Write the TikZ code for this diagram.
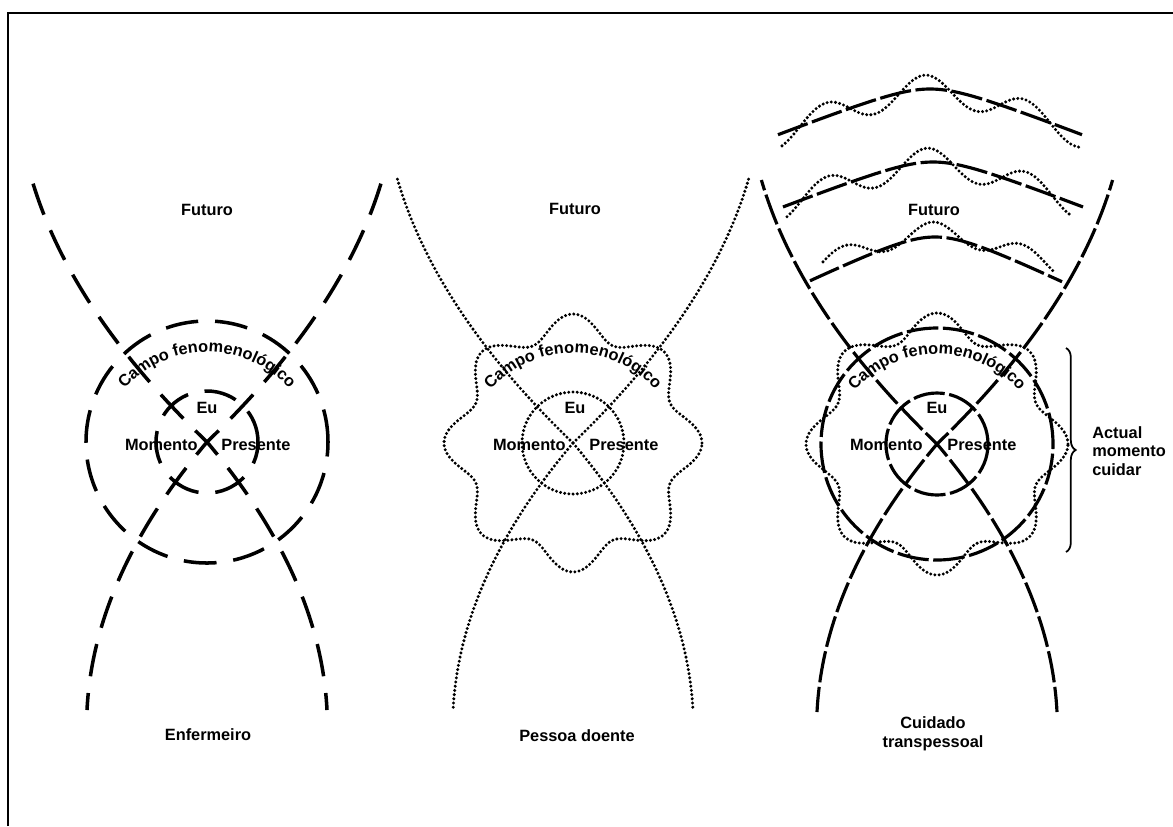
\documentclass[tikz,border=0pt]{standalone}
\usepackage{fontspec}
\setmainfont{Liberation Sans}
\usetikzlibrary{decorations.text,decorations.pathreplacing}
\newcommand{\lblfont}{\bfseries\fontsize{9.3}{10.6}\selectfont}
\newcommand{\xcurves}[2]{%
  \draw[#1,dash phase=#2] (0,0) .. controls (-91.5,88) and (-150.1,176) .. (-175.6,264);
  \draw[#1,dash phase=#2] (0,0) .. controls (91.5,88) and (150.1,176) .. (175.6,264);
  \draw[#1,dash phase=#2] (0,0) .. controls (75.5,-89.3) and (115.5,-178.7) .. (120,-268);
  \draw[#1,dash phase=#2] (0,0) .. controls (-75.5,-89.3) and (-115.5,-178.7) .. (-120,-268);
}
\newcommand{\campo}{%
  \path[decorate,decoration={text along path,text format delimiters={|}{|},
    text={|\lblfont|Campo fenomenológico},text align=center}]
    (0,-20) ++(150:110) arc[start angle=150,end angle=30,radius=110];
}
\newcommand{\flower}[2]{%
  \draw[dots] plot[domain=0:360,samples=289,variable=\t]
    ({(#1+#2*cos(8*\t))*cos(\t)},{(#1+#2*cos(8*\t))*sin(\t)}) -- cycle;
}
\begin{document}
\begin{tikzpicture}[x=0.02cm,y=0.02cm,
  lbl/.style={font=\lblfont,inner sep=0pt},
  longdash/.style={line width=2pt,dash pattern=on 18.7pt off 9.6pt},
  soliddash/.style={line width=1.8pt,dash pattern=on 18pt off 2.6pt},
  dots/.style={line width=1.9pt,line cap=round,dash pattern=on 0pt off 2.4pt},
  frame/.style={line width=1.1pt},
  bracestyle/.style={line width=1pt,decorate,decoration={brace,amplitude=5.5pt}}]
\useasboundingbox (0,0) rectangle (1173,-826);
% frame (top and left edges visible)
\coordinate (fbl) at (8,-826);
\coordinate (ftl) at (8,-13);
\coordinate (ftr) at (1173,-13);
\draw[frame] (fbl) -- (ftl) -- (ftr);

% ---------- left figure: Enfermeiro ----------
\begin{scope}[shift={(207,-442)}]
  \xcurves{longdash}{9.35pt}
  \draw[longdash] (0,0) circle[radius=121];
  \draw[longdash] (0,0) circle[radius=51];
  \campo
  \node[lbl] (futL) at (0,232) {Futuro};
  \node[lbl] (euL) at (0,34) {Eu};
  \node[lbl,anchor=east] (momL) at (-9,-3) {Momento};
  \node[lbl,anchor=west] (preL) at (14,-3) {Presente};
  \node[lbl] (enf) at (1,-293) {Enfermeiro};
\end{scope}

% ---------- middle figure: Pessoa doente ----------
\begin{scope}[shift={(573,-443)}]
  \xcurves{dots}{0pt}
  \flower{117}{12}
  \draw[dots] (0,0) circle[radius=51];
  \campo
  \node[lbl] (futM) at (2,234) {Futuro};
  \node[lbl] (euM) at (2,35) {Eu};
  \node[lbl,anchor=east] (momM) at (-7,-2) {Momento};
  \node[lbl,anchor=west] (preM) at (16,-2) {Presente};
  \node[lbl] (pes) at (4,-293) {Pessoa doente};
\end{scope}

% ---------- right figure: Cuidado transpessoal ----------
\begin{scope}[shift={(937,-444)}]
  \flower{119}{12}
  \xcurves{soliddash}{9pt}
  \draw[soliddash] (0,0) circle[radius=116];
  \draw[soliddash] (0,0) circle[radius=51];
  \campo
  \node[lbl] (futR) at (-3,234) {Futuro};
  \node[lbl] (euR) at (0,36) {Eu};
  \node[lbl,anchor=east] (momR) at (-14,-1) {Momento};
  \node[lbl,anchor=west] (preR) at (10,-1) {Presente};
  \node[lbl,align=center] (cui) at (-4,-290) {Cuidado\\transpessoal};
\end{scope}

% waves above the right figure
\draw[soliddash] plot[domain=778:1082,samples=90] (\x,{-(89+39*(sqrt(((\x-930)/100)^2+0.16)-0.4))});
\draw[dots] plot[domain=782:1082,samples=150] (\x,{-(89+39*(sqrt(((\x-930)/100)^2+0.16)-0.4)-14*cos((\x-925)*3.6))});
\draw[soliddash] plot[domain=783:1083,samples=90] (\x,{-(162+39*(sqrt(((\x-933)/100)^2+0.16)-0.4))});
\draw[dots] plot[domain=787:1072,samples=150] (\x,{-(162+39*(sqrt(((\x-933)/100)^2+0.16)-0.4)-14*cos((\x-927)*3.6))});
\draw[soliddash] plot[domain=810:1062,samples=90] (\x,{-(237+48*(sqrt(((\x-935)/100)^2+0.16)-0.4))});
\draw[dots] plot[domain=823:1053,samples=150] (\x,{-(232+40*(sqrt(((\x-935)/100)^2+0.16)-0.4)-10*cos((\x-933)*4))});

% brace and its label
\coordinate (bt) at (1066,-348);
\coordinate (bb) at (1066,-552);
\draw[bracestyle] (bt) -- (bb);
\node[lbl,align=left,anchor=west] (act) at (1092,-451) {Actual\\momento\\cuidar};
\end{tikzpicture}
\end{document}
